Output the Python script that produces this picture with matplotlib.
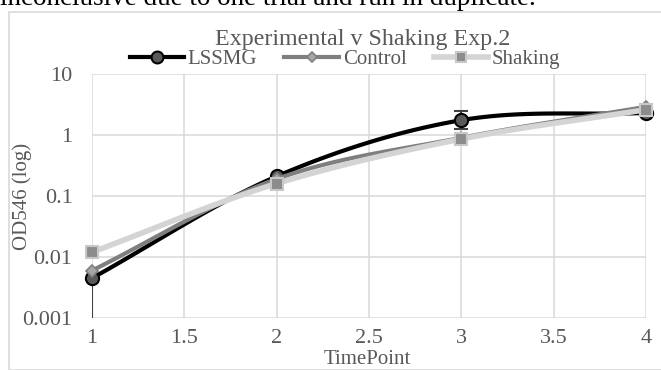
import numpy as np
import matplotlib
matplotlib.use("Agg")
import matplotlib.pyplot as plt
from matplotlib.patches import Rectangle
from matplotlib.lines import Line2D

# ---- data ----
timepoints = [1, 2, 3, 4]
lssmg = [0.0045, 0.21, 1.75, 2.3]
control = [0.006, 0.19, 0.9, 2.9]
shaking = [0.012, 0.16, 0.86, 2.6]
lssmg_err_low = [0.00449, 0.0, 0.5, 0.0]
lssmg_err_high = [0.0, 0.0, 0.7, 0.0]
series_names = ["LSSMG", "Control", "Shaking"]
y_ticks = [0.001, 0.01, 0.1, 1, 10]
y_ticklabels = ["0.001", "0.01", "0.1", "1", "10"]
x_ticks = [1, 1.5, 2, 2.5, 3, 3.5, 4]
x_ticklabels = ["1", "1.5", "2", "2.5", "3", "3.5", "4"]
title = "Experimental v Shaking Exp.2"
caption = "inconclusive due to one trial and run in duplicate."

SERIF = ["Liberation Serif", "DejaVu Serif"]
TXT = "#595959"

def smooth(xs, ys, n=40):
    """Catmull-Rom smoothing in (x, log10 y) space, like Excel smoothed lines."""
    x = np.asarray(xs, float)
    y = np.log10(np.asarray(ys, float))
    px = np.concatenate([[2 * x[0] - x[1]], x, [2 * x[-1] - x[-2]]])
    py = np.concatenate([[2 * y[0] - y[1]], y, [2 * y[-1] - y[-2]]])
    ox, oy = [], []
    for i in range(1, len(px) - 2):
        t = np.linspace(0, 1, n)
        for arr, out in ((px, ox), (py, oy)):
            p0, p1, p2, p3 = arr[i - 1], arr[i], arr[i + 1], arr[i + 2]
            out.extend(0.5 * ((2 * p1) + (-p0 + p2) * t
                              + (2 * p0 - 5 * p1 + 4 * p2 - p3) * t ** 2
                              + (-p0 + 3 * p1 - 3 * p2 + p3) * t ** 3))
    return np.array(ox), 10 ** np.array(oy)

W, H = 661, 370
fig = plt.figure(figsize=(W / 100, H / 100), dpi=100)
fig.patch.set_facecolor("white")

# chart border
fig.patches.append(Rectangle((9 / W, 0), 1.0, 1 - 12 / H, transform=fig.transFigure,
                             fill=False, edgecolor="#d9d9d9", linewidth=1.2))
# cut-off caption text above the chart
fig.text(0.0, 1 - 5 / H, caption, ha="left", va="baseline", family=SERIF,
         fontsize=19.5, color="black")

ax = fig.add_axes([92 / W, 1 - 318 / H, (646 - 92) / W, (318 - 74) / H])
ax.set_yscale("log")
ax.set_xlim(1, 4)
ax.set_ylim(0.001, 10)
ax.set_yticks(y_ticks)
ax.set_yticklabels(y_ticklabels)
ax.yaxis.set_minor_locator(matplotlib.ticker.NullLocator())
ax.set_xticks(x_ticks)
ax.set_xticklabels(x_ticklabels)
for s in ax.spines.values():
    s.set_visible(False)
ax.grid(True, color="#d9d9d9", linewidth=1.1)
ax.set_axisbelow(True)
ax.tick_params(length=0, labelsize=16, labelcolor=TXT)
for lab in ax.get_xticklabels() + ax.get_yticklabels():
    lab.set_family(SERIF)
ax.tick_params(axis="y", pad=14)
ax.tick_params(axis="x", pad=8)

styles = {
    "Shaking": dict(color="#d4d4d4", lw=4, marker="s", ms=8.5, mfc="#8c8c8c", mec="#c8c8c8", mew=1.5),
    "Control": dict(color="#7f7f7f", lw=3, marker="D", ms=6, mfc="#a6a6a6", mec="#7f7f7f", mew=1.2),
    "LSSMG": dict(color="#000000", lw=3, marker="o", ms=9.5, mfc="#595959", mec="#000000", mew=1.5),
}
data = {"LSSMG": lssmg, "Control": control, "Shaking": shaking}

# error bars (LSSMG)
ax.errorbar(timepoints, lssmg, yerr=[lssmg_err_low, lssmg_err_high], fmt="none",
            ecolor="#404040", elinewidth=1.5, capsize=5, capthick=1.5, zorder=2)

z = {"LSSMG": 3, "Control": 4, "Shaking": 5}
for name in ["LSSMG", "Control", "Shaking"]:
    st = styles[name]
    sx, sy = smooth(timepoints, data[name])
    ax.plot(sx, sy, color=st["color"], lw=st["lw"], zorder=z[name], solid_capstyle="round")
    ax.plot(timepoints, data[name], linestyle="none", marker=st["marker"], ms=st["ms"],
            mfc=st["mfc"], mec=st["mec"], mew=st["mew"], zorder=z[name] + 0.5, clip_on=False)

ax.set_xlabel("TimePoint", family=SERIF, fontsize=15, color=TXT)
ax.xaxis.set_label_coords(367 / W, 1 - 360 / H, transform=fig.transFigure)
ax.set_ylabel("OD546 (log)", family=SERIF, fontsize=15, color=TXT)
ax.yaxis.set_label_coords(22 / W, 1 - 196 / H, transform=fig.transFigure)
ax.xaxis.label.set_va("center")
ax.yaxis.label.set_va("center")

fig.text(363 / W, 1 - 39 / H, title, ha="center", va="center", family=SERIF,
         fontsize=17.3, color=TXT)

handles = []
for name in series_names:
    st = styles[name]
    handles.append(Line2D([], [], color=st["color"], lw=st["lw"], marker=st["marker"],
                          ms=st["ms"] * 0.9, mfc=st["mfc"], mec=st["mec"], mew=st["mew"]))
leg = fig.legend(handles, series_names, loc="center", bbox_to_anchor=(345 / W, 1 - 59 / H),
                 ncol=3, frameon=False, prop={"family": SERIF, "size": 15},
                 handlelength=2.6, handletextpad=0.2, columnspacing=1.3, borderpad=0)
for t in leg.get_texts():
    t.set_color(TXT)

fig.savefig("out.png", dpi=100)
